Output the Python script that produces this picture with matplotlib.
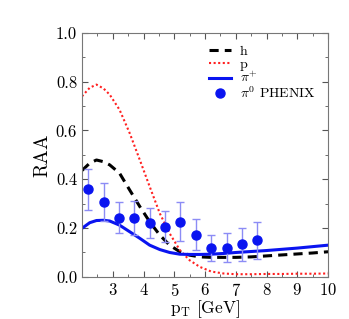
import numpy as np
import matplotlib
matplotlib.use('Agg')
import matplotlib.pyplot as plt
from matplotlib.ticker import MultipleLocator
from matplotlib.lines import Line2D

plt.rcParams['font.family'] = 'serif'
plt.rcParams['font.serif'] = ['cmr10', 'DejaVu Serif']
plt.rcParams['mathtext.fontset'] = 'cm'
plt.rcParams['axes.formatter.use_mathtext'] = True

# curves
pt_curve = [2.0, 2.25, 2.47, 2.7, 2.9, 3.22, 3.55, 3.88, 4.2, 4.53, 4.85, 5.18, 5.5, 5.83,
            6.2, 6.6, 7.0, 7.5, 8.0, 8.5, 9.0, 9.5, 10.0]
raa_h = [0.436, 0.466, 0.479, 0.472, 0.459, 0.425, 0.356, 0.288, 0.226, 0.171, 0.130, 0.103,
         0.089, 0.082, 0.080, 0.080, 0.080, 0.082, 0.086, 0.090, 0.094, 0.098, 0.103]
raa_p = [0.74, 0.775, 0.788, 0.772, 0.747, 0.685, 0.589, 0.479, 0.370, 0.26, 0.178, 0.11,
         0.068, 0.041, 0.022, 0.014, 0.011, 0.011, 0.012, 0.012, 0.013, 0.013, 0.014]
raa_pi = [0.199, 0.222, 0.231, 0.232, 0.229, 0.212, 0.185, 0.158, 0.130, 0.112, 0.100, 0.093,
          0.092, 0.092, 0.093, 0.096, 0.100, 0.104, 0.108, 0.113, 0.118, 0.124, 0.130]

# PHENIX pi0 data
pt_data = [2.2, 2.7, 3.2, 3.7, 4.2, 4.7, 5.2, 5.7, 6.2, 6.7, 7.2, 7.7]
raa_data = [0.359, 0.308, 0.241, 0.241, 0.221, 0.205, 0.226, 0.171, 0.118, 0.118, 0.133, 0.151]
err_hi = [0.441, 0.386, 0.305, 0.311, 0.284, 0.268, 0.305, 0.236, 0.173, 0.178, 0.201, 0.223]
err_lo = [0.274, 0.230, 0.178, 0.171, 0.158, 0.144, 0.147, 0.110, 0.064, 0.059, 0.064, 0.075]

raa_data = np.array(raa_data)
yerr = [raa_data - np.array(err_lo), np.array(err_hi) - raa_data]

blue = '#0a14f0'
fig = plt.figure(figsize=(3.49, 3.19), dpi=100)
ax = fig.add_axes([0.235, 0.132, 0.705, 0.765])

l1, = ax.plot(pt_curve, raa_h, color='black', ls=(0, (3, 2)), lw=2.2)
l2, = ax.plot(pt_curve, raa_p, color='#ff2020', ls=(0, (1, 1.2)), lw=1.5)
l3, = ax.plot(pt_curve, raa_pi, color=blue, ls='-', lw=2.2)
ax.errorbar(pt_data, raa_data, yerr=yerr, fmt='o', color=blue, ms=6.5,
            ecolor='#8c8cf5', elinewidth=1.0, capsize=3, capthick=1.0)
dot = Line2D([], [], ls='none', marker='o', color=blue, ms=6.5)

ax.set_xlim(2, 10)
ax.set_ylim(0, 1.0)
ax.set_xticks([3, 4, 5, 6, 7, 8, 9, 10])
ax.xaxis.set_minor_locator(MultipleLocator(0.5))
ax.set_yticks([0, 0.2, 0.4, 0.6, 0.8, 1.0], ['0.0', '0.2', '0.4', '0.6', '0.8', '1.0'])
ax.yaxis.set_minor_locator(MultipleLocator(0.1))
ax.tick_params(which='both', direction='in', top=True, right=True, labelsize=12,
               color='#555555')
ax.tick_params(which='major', length=4)
ax.tick_params(which='minor', length=2)
for s in ax.spines.values():
    s.set_color('#777777')
    s.set_linewidth(0.8)

ax.set_xlabel(r'$\mathrm{p_T}$ [GeV]', fontsize=12.5, labelpad=0)
ax.set_ylabel('RAA', fontsize=14, labelpad=3)

ax.legend([l1, l2, l3, dot], ['h', 'p', r'$\pi^{+}$', r'$\pi^{0}$ PHENIX'],
          loc='upper right', frameon=False, fontsize=10, handlelength=1.6,
          labelspacing=0.0, borderaxespad=0.5, handletextpad=0.6)

plt.savefig('out.png', dpi=100)
